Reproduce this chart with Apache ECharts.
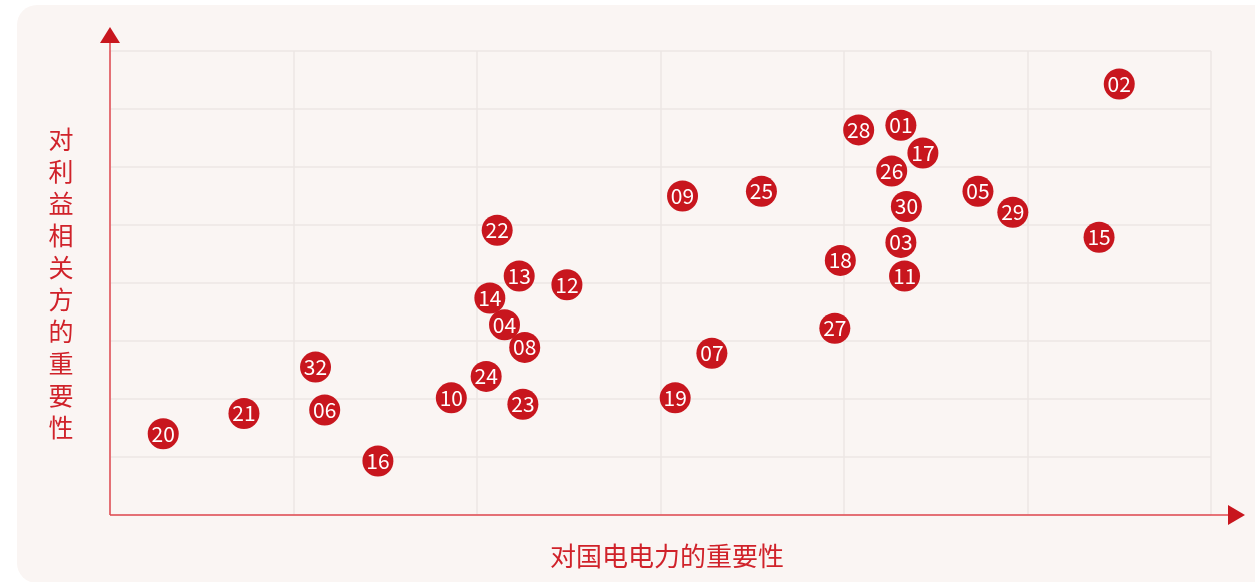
<!DOCTYPE html>
<html>
<head>
<meta charset="utf-8">
<script src="https://cdn.jsdelivr.net/npm/echarts@6/dist/echarts.min.js"></script>
<style>
html,body{margin:0;padding:0;background:#ffffff;}
#chart{width:1255px;height:582px;}
</style>
</head>
<body>
<div id="chart"></div>
<script>
// Issue IDs
const ids = ['01','02','03','04','05','06','07','08','09','10','11','12','13','14','15','16','17','18','19','20','21','22','23','24','25','26','27','28','29','30','32'];
// Importance to the company (x)
const importanceToCompany = [4.31,5.50,4.31,2.15,4.73,1.17,3.28,2.26,3.12,1.86,4.33,2.49,2.23,2.07,5.39,1.46,4.43,3.98,3.08,0.29,0.73,2.11,2.25,2.05,3.55,4.26,3.95,4.08,4.92,4.34,1.12];
// Importance to stakeholders (y)
const importanceToStakeholders = [6.72,7.43,4.70,3.28,5.58,1.81,2.79,2.89,5.50,2.02,4.12,3.97,4.12,3.74,4.79,0.93,6.24,4.39,2.02,1.40,1.75,4.91,1.91,2.39,5.58,5.93,3.22,6.64,5.22,5.32,2.55];
const xAxisName = '对国电电力的重要性';
const yAxisName = '对利益相关方的重要性';

const RED = '#c8161e';
const AXIS = '#e0474f';
const FONT = '"Noto Sans CJK SC", "Noto Sans", sans-serif';

const data = ids.map((id, i) => [importanceToCompany[i], importanceToStakeholders[i], id]);

const chart = echarts.init(document.getElementById('chart'), null, {renderer: 'canvas'});
const G = {left: 110, right: 44, top: 51, bottom: 67};
const W = 1255, H = 582;
const axisY = H - G.bottom, axisX = G.left;

chart.setOption({
  backgroundColor: 'transparent',
  animation: false,
  textStyle: {fontFamily: FONT},
  graphic: [
    {type: 'rect', z: -10, silent: true, shape: {x: 17, y: 5, width: 1300, height: 578, r: 20}, style: {fill: '#faf5f3'}},
    {type: 'line', z: 10, silent: true, shape: {x1: axisX, y1: axisY, x2: axisX, y2: 42}, style: {stroke: AXIS, lineWidth: 1.5}},
    {type: 'line', z: 10, silent: true, shape: {x1: axisX, y1: axisY, x2: 1229, y2: axisY}, style: {stroke: AXIS, lineWidth: 1.5}},
    {type: 'polygon', z: 10, silent: true, shape: {points: [[100, 43], [120, 43], [110, 27]]}, style: {fill: RED}},
    {type: 'polygon', z: 10, silent: true, shape: {points: [[1228, axisY - 10], [1228, axisY + 10], [1245, axisY]]}, style: {fill: RED}}
  ],
  grid: {left: G.left, right: G.right, top: G.top, bottom: G.bottom, containLabel: false},
  xAxis: {
    type: 'value', min: 0, max: 6, interval: 1,
    name: xAxisName, nameLocation: 'middle', nameGap: 41,
    nameTextStyle: {color: '#d0222a', fontSize: 26, fontFamily: FONT, align: 'center', verticalAlign: 'middle', padding: [0, 0, 0, 13]},
    axisLine: {show: false}, axisTick: {show: false}, axisLabel: {show: false},
    splitLine: {show: true, lineStyle: {color: '#ece6e4', width: 1.5}}
  },
  yAxis: {
    type: 'value', min: 0, max: 8, interval: 1,
    name: yAxisName.split('').join('\n'), nameLocation: 'middle', nameGap: 49, nameRotate: 0,
    nameTextStyle: {color: '#d0222a', fontSize: 25, lineHeight: 32, fontFamily: FONT, align: 'center', verticalAlign: 'middle', padding: [8, 0, 0, 0]},
    axisLine: {show: false}, axisTick: {show: false}, axisLabel: {show: false},
    splitLine: {show: true, lineStyle: {color: '#ece6e4', width: 1.5}}
  },
  series: [{
    type: 'scatter',
    data: data,
    symbol: 'circle',
    symbolSize: 31,
    itemStyle: {color: RED, opacity: 1},
    label: {
      show: true, position: 'inside',
      formatter: p => p.data[2],
      color: '#ffffff', fontSize: 21, fontFamily: FONT
    },
    z: 5
  }]
});
</script>
</body>
</html>
